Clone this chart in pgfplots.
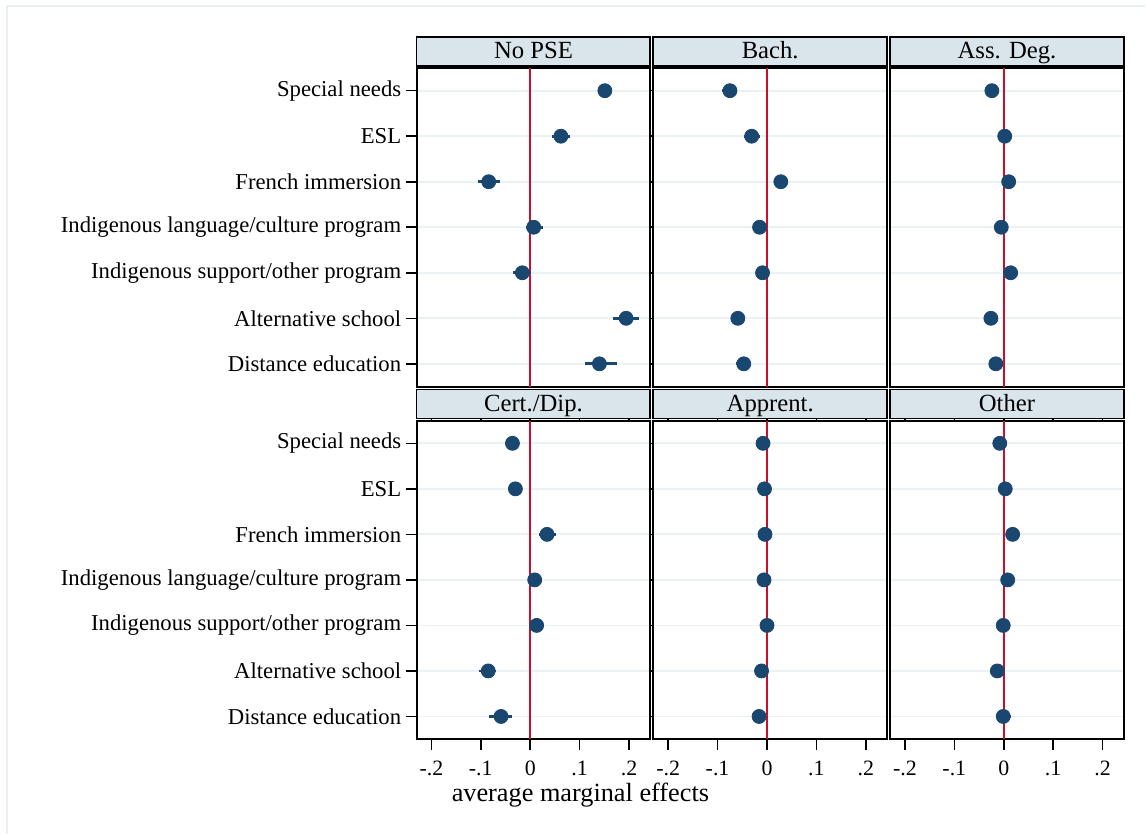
\documentclass[border=0pt]{standalone}
\usepackage{fontspec}
\setmainfont{Liberation Serif}
\usepackage{pgfplots}
\usepackage{pgfplotstable}
\pgfplotsset{compat=1.18}
\usetikzlibrary{calc}

\definecolor{navy}{RGB}{26,71,111}
\definecolor{zeroline}{RGB}{200,16,46}
\definecolor{gridc}{RGB}{234,242,243}
\definecolor{headfill}{RGB}{217,229,235}
\definecolor{framec}{RGB}{232,240,242}

% columns: category, estimate, lower bound, upper bound
\pgfplotstableread{
c x lo hi
1 0.151 0.143 0.159
2 0.062 0.045 0.081
3 -0.084 -0.106 -0.061
4 0.007 -0.009 0.026
5 -0.016 -0.035 0.002
6 0.194 0.168 0.221
7 0.140 0.110 0.176
}\nopse
\pgfplotstableread{
c x lo hi
1 -0.075 -0.092 -0.060
2 -0.031 -0.046 -0.015
3 0.028 0.021 0.035
4 -0.015 -0.022 -0.008
5 -0.009 -0.017 -0.002
6 -0.059 -0.068 -0.050
7 -0.047 -0.062 -0.032
}\bach
\pgfplotstableread{
c x lo hi
1 -0.024 -0.030 -0.018
2 0.002 -0.004 0.008
3 0.010 0.003 0.017
4 -0.005 -0.011 0.001
5 0.014 0.007 0.021
6 -0.026 -0.032 -0.020
7 -0.016 -0.023 -0.009
}\assdeg
\pgfplotstableread{
c x lo hi
1 -0.036 -0.045 -0.027
2 -0.030 -0.040 -0.020
3 0.034 0.018 0.052
4 0.009 0.000 0.018
5 0.013 0.003 0.023
6 -0.085 -0.103 -0.069
7 -0.059 -0.083 -0.036
}\certdip
\pgfplotstableread{
c x lo hi
1 -0.008 -0.015 0.002
2 -0.005 -0.011 0.001
3 -0.004 -0.010 0.002
4 -0.006 -0.012 0.000
5 0.000 -0.008 0.008
6 -0.011 -0.017 -0.005
7 -0.016 -0.023 -0.009
}\apprent
\pgfplotstableread{
c x lo hi
1 -0.008 -0.016 0.003
2 0.003 -0.003 0.009
3 0.018 0.012 0.024
4 0.008 0.002 0.014
5 -0.001 -0.007 0.005
6 -0.013 -0.019 -0.007
7 -0.001 -0.016 0.014
}\other

\pgfplotsset{
  panel/.style={
    scale only axis, width=117bp, height=159.5bp, anchor=north west,
    xmin=-0.23, xmax=0.243, ymin=0.5, ymax=7.5, y dir=reverse,
    ytick={1,...,7}, ymajorgrids, grid style={gridc, line width=0.9pt},
    axis line style={black, line width=1pt},
    xtick={-0.2,-0.1,0,0.1,0.2},
    xticklabels={-.2,-.1,0,.1,.2},
    tick align=outside, major tick length=5.5bp,
    tick style={black, line width=0.8pt},
    ticklabel style={font=\fontsize{11}{13}\selectfont},
    yticklabel style={font=\fontsize{11.4}{13}\selectfont, inner xsep=2bp},
    /pgf/number format/assume math mode=true,
    xticklabel style={yshift=-2bp},
  },
  leftcol/.style={
    yticklabels={Special needs, ESL, French immersion,
      Indigenous language/culture program,
      Indigenous support/other program,
      Alternative school, Distance education},
  },
  innercol/.style={yticklabels={}, ytick style={draw=none}},
  toprow/.style={xticklabels={}, xtick style={draw=none}},
}

% one panel: zero line, then estimates with confidence intervals
\newcommand{\drawpanel}[1]{%
  \addplot[zeroline, line width=1pt, forget plot] coordinates {(0,0.5) (0,7.5)};
  \addplot[navy, only marks, mark=*, mark size=3.5bp,
    mark options={fill=navy, draw=navy},
    error bars/.cd, x dir=both, x explicit, error mark=none,
    error bar style={navy, line width=1.4pt}]
    table[x=x, y=c,
      x error plus expr=\thisrow{hi}-\thisrow{x},
      x error minus expr=\thisrow{x}-\thisrow{lo}] {#1};
}

% title strip above a panel
\newcommand{\header}[2]{%
  \draw[black, line width=0.9pt, fill=headfill]
    ([yshift=1bp]#1.north west) rectangle ([yshift=15.5bp]#1.north east);
  \node[font=\fontsize{12.4}{14}\selectfont, anchor=base, inner sep=0pt]
    at ($([yshift=4.6bp]#1.north west)!0.5!([yshift=4.6bp]#1.north east)$) {#2};
}

\begin{document}
\begin{tikzpicture}
  \fill[white] (0,0) rectangle (573bp,417.5bp);
  \draw[framec, line width=1.2pt] (3.5bp,0) -- (3.5bp,414.5bp) -- (573bp,414.5bp);

  % top row
  \begin{axis}[panel, leftcol, toprow, name=p1, at={(208.5bp,383.5bp)}]
    \drawpanel{\nopse}
  \end{axis}
  \begin{axis}[panel, innercol, toprow, name=p2, at={(327bp,383.5bp)}]
    \drawpanel{\bach}
  \end{axis}
  \begin{axis}[panel, innercol, toprow, name=p3, at={(445.5bp,383.5bp)}]
    \drawpanel{\assdeg}
  \end{axis}

  % bottom row
  \begin{axis}[panel, leftcol, name=p4, at={(208.5bp,207bp)}]
    \drawpanel{\certdip}
  \end{axis}
  \begin{axis}[panel, innercol, name=p5, at={(327bp,207bp)}]
    \drawpanel{\apprent}
  \end{axis}
  \begin{axis}[panel, innercol, name=p6, at={(445.5bp,207bp)}]
    \drawpanel{\other}
  \end{axis}

  \header{p1}{No PSE}
  \header{p2}{Bach.}
  \header{p3}{Ass. Deg.}
  \header{p4}{Cert./Dip.}
  \header{p5}{Apprent.}
  \header{p6}{Other}

  \node[font=\fontsize{13.2}{15}\selectfont, anchor=center] at (290.5bp,19.5bp)
    {average marginal effects};
\end{tikzpicture}
\end{document}
